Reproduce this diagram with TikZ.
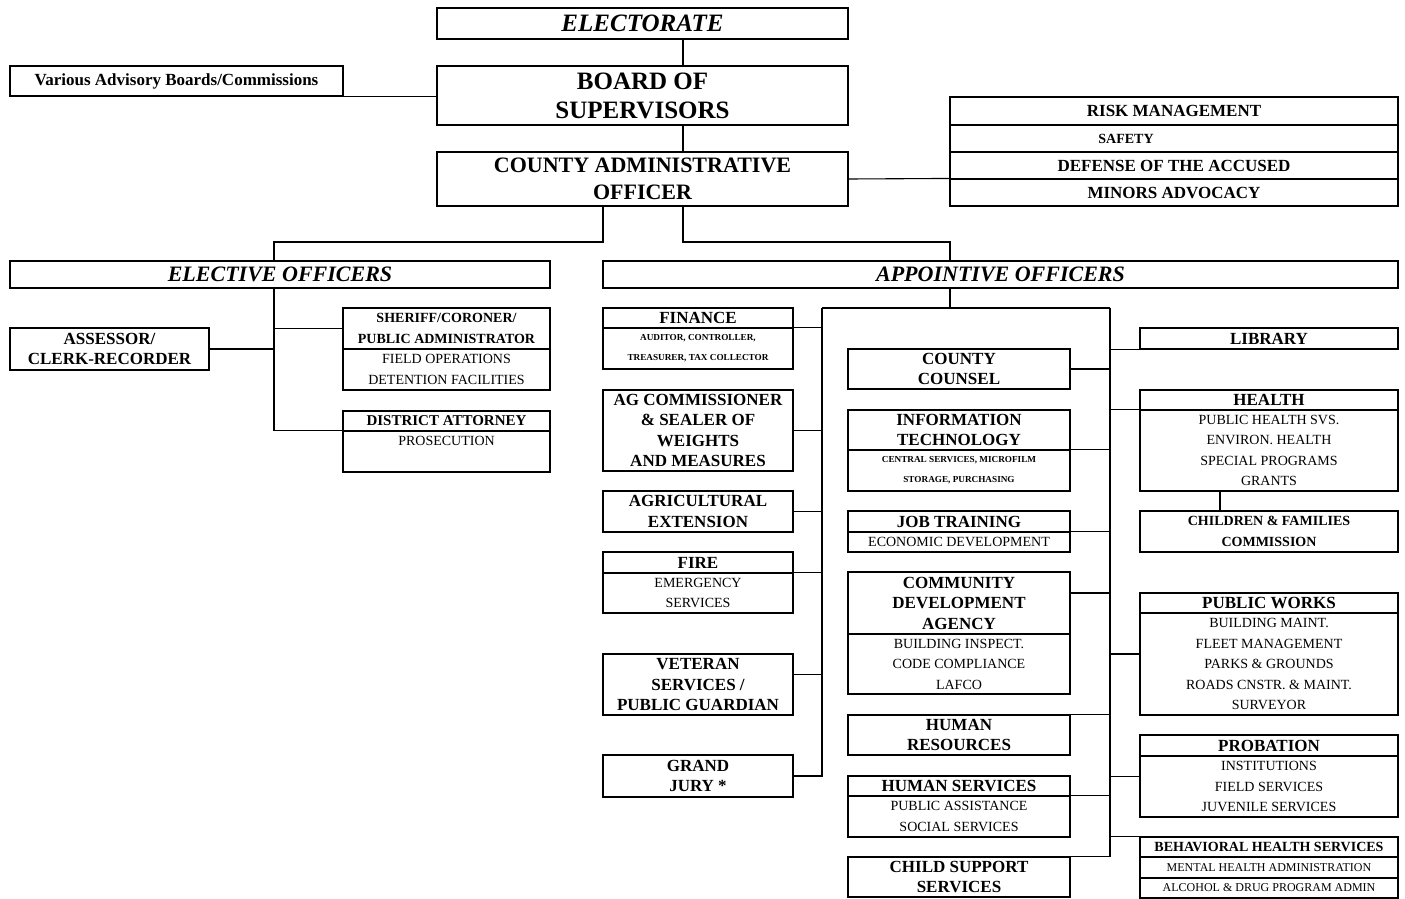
\documentclass[tikz,border=0pt]{standalone}
\usepackage{fontspec}
\setmainfont{Liberation Serif}
\usepackage{tikz}
\newcommand{\ttlfont}{\fontsize{17}{20.5}\selectfont\bfseries}
\newcommand{\subfont}{\fontsize{14}{20.5}\selectfont}
\newcommand{\smlfont}{\fontsize{9.2}{20}\selectfont\bfseries}
\newcommand{\bigfont}{\fontsize{22}{28}\selectfont\bfseries}
\tikzstyle{org}=[line width=1.1pt, draw=black]
\tikzstyle{box}=[rectangle, draw, inner sep=0pt, align=center, font=\ttlfont]
\tikzstyle{sub}=[rectangle, draw, inner sep=0pt, align=center, font=\subfont]
\tikzstyle{sml}=[sub, font=\smlfont]
\tikzstyle{top}=[box, minimum width=411pt, font=\bigfont]
\tikzstyle{hdr}=[box, minimum height=27pt, font=\bigfont\itshape]
\tikzstyle{risk}=[box, minimum width=448pt, minimum height=27pt]
\tikzstyle{lcol}=[minimum width=190pt]
\tikzstyle{mcol}=[minimum width=222pt]
\tikzstyle{rcol}=[minimum width=258pt]

\begin{document}
\begin{tikzpicture}[org, x=1pt, y=-1pt]
				\useasboundingbox (0,0) rectangle (1405,899);
				
				%The top of the chart
				\draw (642.5,23.5) node[top, minimum height=31pt, font=\fontsize{25}{28}\selectfont\bfseries\itshape] (elect) {ELECTORATE};
				\draw (176.5,81) node[box, minimum width=333pt, minimum height=30pt] (adv) {Various Advisory Boards/Commissions};
				\draw (642.5,95.5) node[top, minimum height=59pt, font=\fontsize{25}{29}\selectfont\bfseries] (bos) {BOARD OF\\SUPERVISORS};
				\draw (642.5,179) node[top, minimum height=54pt, font=\fontsize{22}{27}\selectfont\bfseries] (cao) {COUNTY ADMINISTRATIVE\\OFFICER};
				
				\draw (1174,111) node[risk, minimum height=28pt] (risk) {RISK MANAGEMENT};
				\draw (1174,138.5) node[risk, font=\fontsize{14}{17}\selectfont\bfseries] (safety) {SAFETY\hspace*{96pt}};
				\draw (1174,165.5) node[risk] (defense) {DEFENSE OF THE ACCUSED};
				\draw (1174,192.5) node[risk] (minors) {MINORS ADVOCACY};
				
				%The two groups
				\draw (280,274.5) node[hdr, minimum width=540pt] (elective) {ELECTIVE OFFICERS};
				\draw (1000.5,274.5) node[hdr, minimum width=795pt] (appoint) {APPOINTIVE OFFICERS};
				
				%Elective officers
				\draw (109.5,349) node[box, minimum width=199pt, minimum height=42pt] (assessor) {ASSESSOR/\\CLERK-RECORDER};
				\draw (446.5,328.5) node[box, minimum width=207pt, minimum height=41pt, font=\fontsize{14}{20.5}\selectfont\bfseries] (sheriffT) {SHERIFF/CORONER/\\PUBLIC ADMINISTRATOR};
				\draw (446.5,369.5) node[sub, minimum width=207pt, minimum height=41pt] (sheriffB) {FIELD OPERATIONS\\DETENTION FACILITIES};
				\draw (446.5,421) node[box, minimum width=207pt, minimum height=20pt, font=\fontsize{15}{18}\selectfont\bfseries] (daT) {DISTRICT ATTORNEY};
				\draw (446.5,451.5) node[sub, minimum width=207pt, minimum height=41pt] (daB) {PROSECUTION\\~};
				
				%Appointive officers, left column
				\draw (698,318) node[box, lcol, minimum height=20pt] (finT) {FINANCE};
				\draw (698,348.5) node[sml, lcol, minimum height=41pt] (finB) {AUDITOR, CONTROLLER,\\TREASURER, TAX COLLECTOR};
				\draw (698,430.5) node[box, lcol, minimum height=81pt] (ag) {AG COMMISSIONER\\\& SEALER OF\\WEIGHTS\\AND MEASURES};
				\draw (698,511.5) node[box, lcol, minimum height=41pt] (agx) {AGRICULTURAL\\EXTENSION};
				\draw (698,562.5) node[box, lcol, minimum height=21pt] (fireT) {FIRE};
				\draw (698,593) node[sub, lcol, minimum height=40pt] (fireB) {EMERGENCY\\SERVICES};
				\draw (698,684.5) node[box, lcol, minimum height=61pt] (vet) {VETERAN\\SERVICES /\\PUBLIC GUARDIAN};
				\draw (698,776) node[box, lcol, minimum height=42pt] (grand) {GRAND\\JURY *};
				
				%Appointive officers, middle column
				\draw (959,369) node[box, mcol, minimum height=40pt] (cc) {COUNTY\\COUNSEL};
				\draw (959,430) node[box, mcol, minimum height=40pt] (itT) {INFORMATION\\TECHNOLOGY};
				\draw (959,470.5) node[sml, mcol, minimum height=41pt] (itB) {CENTRAL SERVICES, MICROFILM\\STORAGE, PURCHASING};
				\draw (959,521.5) node[box, mcol, minimum height=21pt] (jtT) {JOB TRAINING};
				\draw (959,542) node[sub, mcol, minimum height=20pt] (jtB) {ECONOMIC DEVELOPMENT};
				\draw (959,603) node[box, mcol, minimum height=62pt] (cdaT) {COMMUNITY\\DEVELOPMENT\\AGENCY};
				\draw (959,664) node[sub, mcol, minimum height=60pt] (cdaB) {BUILDING INSPECT.\\CODE COMPLIANCE\\LAFCO};
				\draw (959,735) node[box, mcol, minimum height=40pt] (hr) {HUMAN\\RESOURCES};
				\draw (959,786) node[box, mcol, minimum height=20pt] (hsT) {HUMAN SERVICES};
				\draw (959,816.5) node[sub, mcol, minimum height=41pt] (hsB) {PUBLIC ASSISTANCE\\SOCIAL SERVICES};
				\draw (959,877) node[box, mcol, minimum height=40pt] (cs) {CHILD SUPPORT\\SERVICES};
				
				%Appointive officers, right column
				\draw (1269,338.5) node[box, rcol, minimum height=21pt] (lib) {LIBRARY};
				\draw (1269,400) node[box, rcol, minimum height=20pt] (healthT) {HEALTH};
				\draw (1269,450.5) node[sub, rcol, minimum height=81pt] (healthB) {PUBLIC HEALTH SVS.\\ENVIRON. HEALTH\\SPECIAL PROGRAMS\\GRANTS};
				\draw (1269,531.5) node[box, rcol, minimum height=41pt, font=\fontsize{14}{20.5}\selectfont\bfseries] (cfc) {CHILDREN \& FAMILIES\\COMMISSION};
				\draw (1269,603) node[box, rcol, minimum height=20pt] (pwT) {PUBLIC WORKS};
				\draw (1269,664) node[sub, rcol, minimum height=102pt] (pwB) {BUILDING MAINT.\\FLEET MANAGEMENT\\PARKS \& GROUNDS\\ROADS CNSTR. \& MAINT.\\SURVEYOR};
				\draw (1269,745.5) node[box, rcol, minimum height=21pt] (probT) {PROBATION};
				\draw (1269,786.5) node[sub, rcol, minimum height=61pt] (probB) {INSTITUTIONS\\FIELD SERVICES\\JUVENILE SERVICES};
				\draw (1269,847) node[box, rcol, minimum height=20pt, font=\fontsize{14}{17}\selectfont\bfseries] (bhsT) {BEHAVIORAL HEALTH SERVICES};
				\draw (1269,867.5) node[sub, rcol, minimum height=21pt, font=\fontsize{12}{14}\selectfont] (bhsM) {MENTAL HEALTH ADMINISTRATION};
				\draw (1269,888) node[sub, rcol, minimum height=20pt, font=\fontsize{12}{14}\selectfont] (bhsA) {ALCOHOL \& DRUG PROGRAM ADMIN};
				
				%Lines at the top
				\coordinate (spine) at (683,0);
				\draw (elect.south -| spine) -- (bos.north -| spine);
				\draw (bos.south -| spine) -- (cao.north -| spine);
				\draw (adv.south east) -- (adv.south east -| bos.west);
				\draw (cao.east) -- (minors.north west);
				
				%Lines to the two groups
				\coordinate (ctl) at (603,242);
				\coordinate (ctr) at (683,242);
				\coordinate (eb) at (274,242);
				\coordinate (ab) at (950,242);
				\draw (cao.south -| ctl) -- (ctl) -- (eb) -- (elective.north -| eb);
				\draw (cao.south -| ctr) -- (ctr) -- (ab) -- (appoint.north -| ab);
				
				%Elective lines
				\draw (elective.south -| eb) |- (daB.north west);
				\draw (sheriffT.west) -- (sheriffT.west -| eb);
				\draw (assessor.east) -- (assessor.east -| eb);
				
				%Appointive lines
				\coordinate (lb) at (822,308);
				\coordinate (rb) at (1110,308);
				\draw (appoint.south -| ab) -- (lb -| ab);
				\draw (lb) -- (rb);
				\draw (lb) |- (grand.east);
				\draw (finB.north east) -- (finB.north east -| lb);
				\draw (ag.east) -- (ag.east -| lb);
				\draw (agx.east) -- (agx.east -| lb);
				\draw (fireB.north east) -- (fireB.north east -| lb);
				\coordinate (vetc) at ([yshift=10pt]vet.east);
				\draw (vetc) -- (vetc -| lb);
				
				\draw (rb) |- (cs.north east);
				\draw (cc.east) -- (cc.east -| rb);
				\draw (itB.north east) -- (itB.north east -| rb);
				\draw (jtB.north east) -- (jtB.north east -| rb);
				\coordinate (cdac) at ([yshift=10pt]cdaT.east);
				\draw (cdac) -- (cdac -| rb);
				\draw (hr.north east) -- (hr.north east -| rb);
				\draw (hsB.north east) -- (hsB.north east -| rb);
				
				\draw (lib.south west) -- (lib.south west -| rb);
				\draw (healthB.north west) -- (healthB.north west -| rb);
				\coordinate (pwc) at ([yshift=10pt]pwB.west);
				\draw (pwc) -- (pwc -| rb);
				\coordinate (probc) at ([yshift=10pt]probB.west);
				\draw (probc) -- (probc -| rb);
				\draw (bhsT.north west) -- (bhsT.north west -| rb);
				\coordinate (hc) at (1220,0);
				\draw (healthB.south -| hc) -- (cfc.north -| hc);
			\end{tikzpicture}
\end{document}
